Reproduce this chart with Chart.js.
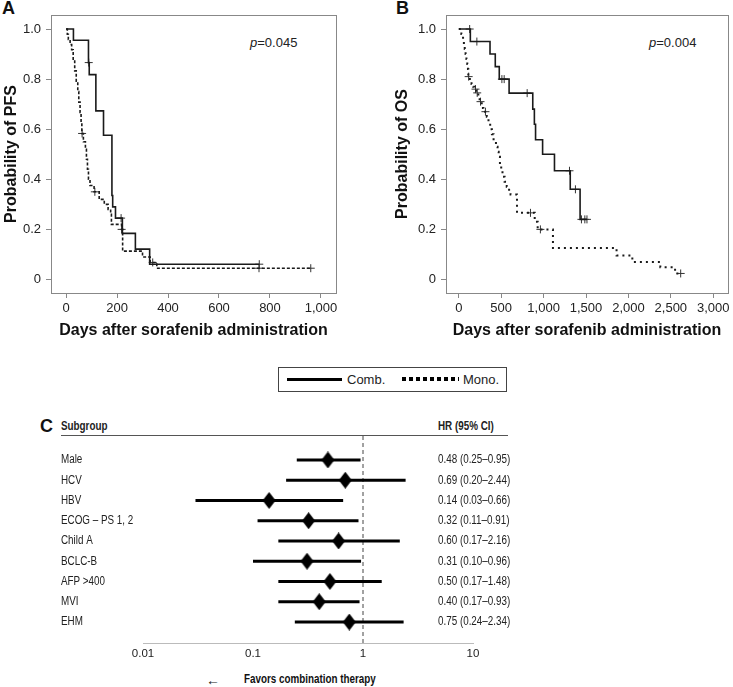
<!doctype html>
<html lang="en">
<head>
<meta charset="utf-8">
<title>Sorafenib KM and subgroup HR</title>
<style>
  * { margin: 0; padding: 0; }
  body {
    width: 733px; height: 687px; position: relative; overflow: hidden;
    background: #fff; color: #222;
    font-family: "Liberation Sans", Arial, sans-serif;
  }
  .box { position: absolute; }
  .panel { position: absolute; font-weight: bold; font-size: 18px; color: #111; }
  .pval { position: absolute; font-size: 13px; line-height: 16px; white-space: nowrap; }
  .legend {
    position: absolute; left: 278px; top: 367px; width: 227px; height: 23px;
    border: 1px solid #444; font-size: 13px; line-height: 23px;
  }
  .legend span { position: absolute; }
  .narrow { font-size: 12px; transform: scaleX(0.82); transform-origin: left center; }
</style>
</head>
<body>
  <div class="panel" style="left:2px;top:-2px;">A</div>
  <div class="panel" style="left:396px;top:-2px;">B</div>
  <div class="pval" style="left:250px;top:35px;"><i>p</i>=0.045</div>
  <div class="pval" style="left:649px;top:35px;"><i>p</i>=0.004</div>

  <div class="box" style="left:0;top:0;"><canvas id="pfs" width="366" height="350"></canvas></div>
  <div class="box" style="left:391px;top:0;"><canvas id="os" width="342" height="350"></canvas></div>

  <div class="legend">
    <span style="left:8px;top:10px;width:55px;height:3px;background:#000;"></span>
    <span style="left:68px;top:0;">Comb.</span>
    <span style="left:123px;top:9px;width:57px;height:4px;background:repeating-linear-gradient(90deg,#000 0 4px,transparent 4px 7px);"></span>
    <span style="left:184px;top:0;">Mono.</span>
  </div>

  <div class="panel" style="left:40px;top:416px;">C</div>
  <div class="pval narrow" style="left:61px;top:418px;font-weight:bold;">Subgroup</div>
  <div class="pval narrow" style="left:438px;top:418px;font-weight:bold;">HR (95% CI)</div>
  <div class="box" style="left:61px;top:435px;width:447px;height:1px;background:#555;"></div>
  <div class="pval" style="left:206px;top:672px;font-size:14px;">&larr;</div>
  <div class="pval narrow" style="left:244px;top:671px;font-weight:bold;color:#111;">Favors combination therapy</div>

  <div class="box" style="left:0;top:415px;"><canvas id="forest" width="733" height="272"></canvas></div>

<script src="https://cdn.jsdelivr.net/npm/chart.js"></script>
<script>
// ---- data: PFS (panel A)
const pfsCombDays = [0, 29, 88, 91, 117, 147, 180, 183, 194, 221, 272, 328, 758];
const pfsCombSurv = [1, .955, .866, .818, .673, .576, .335, .29, .245, .184, .121, .061, .061];
const pfsCombCensDays = [89, 216, 758];
const pfsCombCensSurv = [.866, .245, .061];

const pfsMonoDays = [0, 5, 9, 16, 22, 28, 34, 40, 46, 50, 55, 59, 62, 68, 76, 80, 84, 88, 94, 110,
                     130, 150, 165, 175, 178, 218, 222, 300, 330, 356, 960];
const pfsMonoSurv = [1, .979, .958, .938, .917, .875, .833, .792, .75, .708, .667, .625, .583, .55, .52, .48, .44, .40, .375, .35,
                     .32, .30, .28, .26, .22, .20, .113, .09, .068, .045, .045];
const pfsMonoCensDays = [63, 113, 218, 340, 757, 960];
const pfsMonoCensSurv = [.583, .35, .20, .068, .045, .045];

// ---- data: OS (panel B)
const osCombDays = [0, 136, 368, 430, 477, 593, 872, 891, 905, 988, 1128, 1314, 1430, 1511];
const osCombSurv = [1, .95, .90, .85, .80, .744, .68, .62, .558, .50, .434, .36, .24, .24];
const osCombCensDays = [128, 213, 508, 535, 806, 1305, 1375, 1446, 1486, 1511];
const osCombCensSurv = [1, .95, .80, .80, .744, .434, .36, .24, .24, .24];

const osMonoDays = [0, 30, 50, 60, 70, 80, 90, 100, 108, 112, 130, 150, 170, 185, 205, 230, 245, 270, 290, 330,
                    350, 370, 390, 410, 438, 457, 470, 485, 500, 515, 540, 565, 593, 610, 686, 895, 930, 1110, 1860, 2046,
                    2376, 2550, 2616];
const osMonoSurv = [1, .98, .96, .94, .92, .90, .88, .86, .84, .81, .79, .78, .77, .76, .745, .72, .71, .685, .67, .65,
                    .63, .60, .58, .555, .53, .51, .49, .46, .44, .41, .39, .37, .35, .339, .266, .23, .20, .126, .096, .07,
                    .049, .024, .024];
const osMonoCensDays = [116, 197, 217, 256, 314, 845, 962, 2616];
const osMonoCensSurv = [.81, .76, .745, .71, .67, .266, .20, .024];

const survTicks = [0, .2, .4, .6, .8, 1];
const pfsDayTicks = [0, 200, 400, 600, 800, 1000];
const osDayTicks = [0, 500, 1000, 1500, 2000, 2500, 3000];

// ---- data: subgroup hazard ratios (panel C)
const subgroups = ['Male', 'HCV', 'HBV', 'ECOG \u2013 PS 1, 2', 'Child A', 'BCLC-B', 'AFP >400', 'MVI', 'EHM'];
const hr = [0.48, 0.69, 0.14, 0.32, 0.60, 0.31, 0.50, 0.40, 0.75];
const hrLow = [0.25, 0.20, 0.03, 0.11, 0.17, 0.10, 0.17, 0.17, 0.24];
const hrHigh = [0.95, 2.44, 0.66, 0.91, 2.16, 0.96, 1.48, 0.93, 2.34];
const hrTicks = [0.01, 0.1, 1, 10];

Chart.defaults.font.family = '"Liberation Sans", Arial, sans-serif';
Chart.defaults.color = '#222';

const pts = (xs, ys) => xs.map((x, i) => ({x: x, y: ys[i]}));

// box round the plot area
const frame = {
  id: 'frame',
  beforeDatasetsDraw(chart) {
    const {ctx, chartArea: a} = chart;
    ctx.save();
    ctx.strokeStyle = '#888';
    ctx.lineWidth = 1;
    ctx.strokeRect(Math.round(a.left) + 0.5, Math.round(a.top) + 0.5,
                   Math.round(a.right - a.left), Math.round(a.bottom - a.top));
    ctx.restore();
  }
};

function kmChart(id, c, m, xr, xt, monoDash, monoWidth, yTitle, yWidth, padRight) {
  const cens = (d, s) => ({
    data: pts(d, s), showLine: false, pointStyle: 'cross', pointRadius: 4,
    pointBorderWidth: 1, borderColor: '#333', pointBorderColor: '#333'
  });
  return new Chart(document.getElementById(id), {
    type: 'scatter',
    data: {
      datasets: [
        {data: pts(c[0], c[1]), showLine: true, stepped: true, borderColor: '#1a1a1a',
         borderWidth: 1.6, pointRadius: 0},
        {data: pts(m[0], m[1]), showLine: true, stepped: true, borderColor: '#1a1a1a',
         borderWidth: monoWidth, borderDash: monoDash, pointRadius: 0},
        cens(c[2], c[3]),
        cens(m[2], m[3])
      ]
    },
    options: {
      responsive: false,
      animation: false,
      layout: {padding: {left: 0, right: padRight, top: 15, bottom: 0}},
      plugins: {legend: {display: false}, tooltip: {enabled: false}},
      scales: {
        x: {
          type: 'linear', min: xr[0], max: xr[1],
          afterBuildTicks: s => { s.ticks = xt.map(v => ({value: v})); },
          afterFit: s => { s.height = 57; },
          ticks: {callback: v => v.toLocaleString('en-US'), font: {size: 13}, padding: 3,
                  maxRotation: 0, autoSkip: false},
          grid: {drawOnChartArea: false, drawTicks: true, tickLength: 5, color: '#888'},
          border: {display: false},
          title: {display: true, text: 'Days after sorafenib administration', color: '#111',
                  font: {size: 16, weight: 'bold'}, padding: {top: 0, bottom: 10}}
        },
        y: {
          type: 'linear', min: -0.054, max: 1.056,
          afterBuildTicks: s => { s.ticks = survTicks.map(v => ({value: v})); },
          afterFit: s => { s.width = yWidth; },
          ticks: {callback: v => v === 0 ? '0' : v.toFixed(1), font: {size: 13}, padding: 5},
          grid: {drawOnChartArea: false, drawTicks: true, tickLength: 5, color: '#888'},
          border: {display: false},
          title: {display: true, text: yTitle, color: '#111',
                  font: {size: 16, weight: 'bold'}, padding: {top: 2, bottom: 0}}
        }
      }
    },
    plugins: [frame]
  });
}

kmChart('pfs',
  [pfsCombDays, pfsCombSurv, pfsCombCensDays, pfsCombCensSurv],
  [pfsMonoDays, pfsMonoSurv, pfsMonoCensDays, pfsMonoCensSurv],
  [-59, 1059], pfsDayTicks, [3, 2], 1.6, 'Probability of PFS', 51, 30);

kmChart('os',
  [osCombDays, osCombSurv, osCombCensDays, osCombCensSurv],
  [osMonoDays, osMonoSurv, osMonoCensDays, osMonoCensSurv],
  [-151, 3174], osDayTicks, [2, 4], 2, 'Probability of OS', 55, 1);

// ---- forest plot
const yMin = -1.185, yMax = 9.037;

const diamond = document.createElement('canvas');
diamond.width = 13; diamond.height = 17;
const dc = diamond.getContext('2d');
dc.beginPath();
dc.moveTo(6.5, 0); dc.lineTo(13, 8.5); dc.lineTo(6.5, 17); dc.lineTo(0, 8.5);
dc.closePath();
dc.fillStyle = '#000';
dc.fill();

// row labels and HR text, squeezed to look like the narrow face of the original
function narrowText(ctx, txt, x, y) {
  ctx.save();
  ctx.translate(x, y);
  ctx.scale(0.82, 1);
  ctx.fillText(txt, 0, 0);
  ctx.restore();
}

const rowText = {
  id: 'rowText',
  afterDraw(chart) {
    const {ctx, scales: {y}} = chart;
    ctx.save();
    ctx.font = '12px "Liberation Sans", Arial, sans-serif';
    ctx.fillStyle = '#222';
    ctx.textBaseline = 'middle';
    subgroups.forEach((g, i) => {
      const py = y.getPixelForValue(i);
      const txt = hr[i].toFixed(2) + ' (' + hrLow[i].toFixed(2) + '\u2013' + hrHigh[i].toFixed(2) + ')';
      narrowText(ctx, g, 61, py);
      narrowText(ctx, txt, 438, py);
    });
    ctx.restore();
  }
};

const ciSets = subgroups.map((s, i) => ({
  type: 'line', data: [{x: hrLow[i], y: i}, {x: hrHigh[i], y: i}],
  borderColor: '#000', borderWidth: 3, pointRadius: 0
}));

new Chart(document.getElementById('forest'), {
  type: 'scatter',
  data: {
    datasets: [
      {data: hr.map((v, i) => ({x: v, y: i})), pointStyle: diamond, pointRadius: 8},
      ...ciSets,
      {type: 'line', data: [{x: 1, y: yMin}, {x: 1, y: yMax}], borderColor: '#444',
       borderWidth: 1, borderDash: [4, 3], pointRadius: 0}
    ]
  },
  options: {
    responsive: false,
    animation: false,
    layout: {padding: {left: 143, right: 260, top: 21, bottom: 0}},
    plugins: {legend: {display: false}, tooltip: {enabled: false}},
    scales: {
      x: {
        type: 'logarithmic', min: 0.01, max: 10,
        afterBuildTicks: s => { s.ticks = hrTicks.map(v => ({value: v})); },
        afterFit: s => { s.height = 44; },
        ticks: {callback: v => String(v), font: {size: 11.5}, padding: 4,
                maxRotation: 0, autoSkip: false},
        grid: {display: false, drawTicks: false},
        border: {display: true, color: '#bbb', width: 1}
      },
      y: {
        type: 'linear', min: yMin, max: yMax, reverse: true, display: false
      }
    }
  },
  plugins: [rowText]
});
</script>
</body>
</html>
